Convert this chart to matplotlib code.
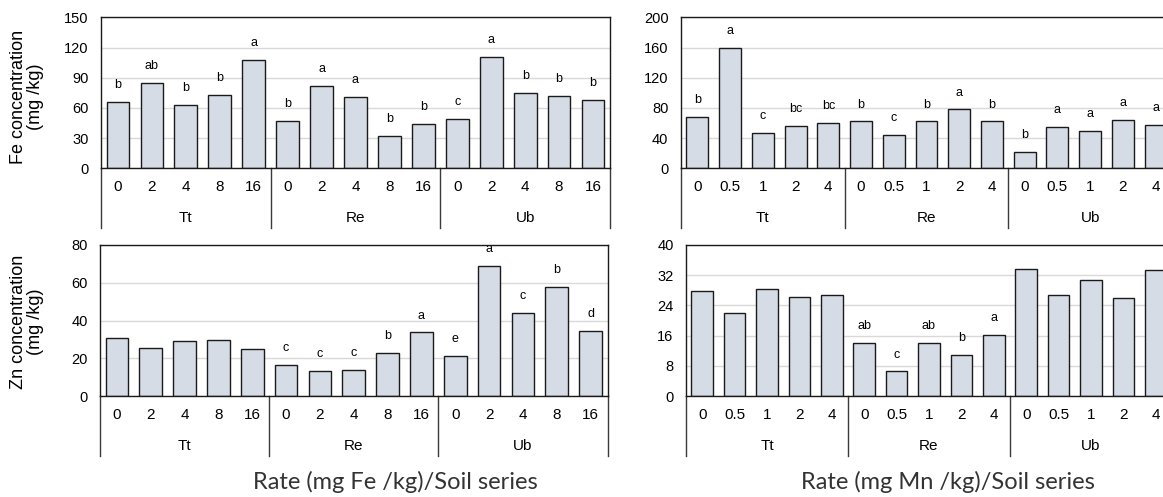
import numpy as np
import matplotlib
matplotlib.use('Agg')
import matplotlib.pyplot as plt
from matplotlib.transforms import blended_transform_factory

plt.rcParams['font.family'] = ['Liberation Sans', 'DejaVu Sans']

# data
soils = ['Tt', 'Re', 'Ub']
fe_rates = ['0', '2', '4', '8', '16']
mn_rates = ['0', '0.5', '1', '2', '4']

fe_by_fe = [66, 85, 63, 73, 108, 47, 82, 71, 32, 44, 49, 111, 75, 72, 68]
fe_by_fe_sig = ['b', 'ab', 'b', 'b', 'a', 'b', 'a', 'a', 'b', 'b', 'c', 'a', 'b', 'b', 'b']

fe_by_mn = [68, 160, 47, 56, 60, 62, 44, 62, 78, 62, 22, 55, 49, 64, 58]
fe_by_mn_sig = ['b', 'a', 'c', 'bc', 'bc', 'b', 'c', 'b', 'a', 'b', 'b', 'a', 'a', 'a', 'a']

zn_by_fe = [30.6, 25.4, 29.1, 29.5, 24.7, 16.3, 13.4, 13.6, 22.9, 33.7, 21.4, 68.7, 44, 57.7, 34.4]
zn_by_fe_sig = ['', '', '', '', '', 'c', 'c', 'c', 'b', 'a', 'e', 'a', 'c', 'b', 'd']

zn_by_mn = [27.9, 22.0, 28.3, 26.3, 26.8, 14.0, 6.5, 14.1, 10.9, 16.2, 33.6, 26.7, 30.7, 25.9, 33.3]
zn_by_mn_sig = ['', '', '', '', '', 'ab', 'c', 'ab', 'b', 'a', '', '', '', '', '']

W, H = 1163, 497
fig = plt.figure(figsize=(W / 100, H / 100), dpi=100)


def px_axes(x0, x1, ytop, ybot):
    return fig.add_axes([x0 / W, (H - ybot) / H, (x1 - x0) / W, (ybot - ytop) / H])


def panel(ax, vals, sig, rates, ymax, step):
    n = len(vals)
    x = np.arange(n)
    ax.bar(x, vals, width=0.67, color='#d6dce5', edgecolor='#1a1a1a', linewidth=1, zorder=2)
    for i in range(n):
        if sig[i]:
            ax.annotate(sig[i], (x[i], vals[i]), xytext=(0, 10), textcoords='offset points',
                        ha='center', va='baseline', fontsize=9, zorder=1)
    ax.set_xlim(-0.5, n - 0.5)
    ax.set_ylim(0, ymax)
    ax.set_yticks(np.arange(0, ymax + 1, step))
    ax.tick_params(axis='y', length=0, pad=9, labelsize=10.5)
    ax.set_xticks([])
    ax.yaxis.grid(True, color='#d9d9d9', linewidth=1)
    ax.set_axisbelow(True)
    for s in ax.spines.values():
        s.set_color('#1a1a1a')
        s.set_linewidth(1)

    hpx = ax.bbox.height
    tr = blended_transform_factory(ax.transData, ax.transAxes)
    for i in range(n):
        ax.text(x[i], -19 / hpx, rates[i % len(rates)], transform=tr, ha='center', va='center',
                fontsize=11)
    per = len(rates)
    for g in range(len(soils)):
        ax.text(g * per + (per - 1) / 2, -50 / hpx, soils[g], transform=tr, ha='center',
                va='center', fontsize=11)
    for b in range(len(soils) + 1):
        xb = b * per - 0.5
        ax.plot([xb, xb], [0, -60 / hpx], transform=tr, color='#3a3a3a', lw=1, clip_on=False)


ax1 = px_axes(101, 610, 17.3, 168.3)
panel(ax1, fe_by_fe, fe_by_fe_sig, fe_rates, 150, 30)
ax2 = px_axes(681, 1172, 17.3, 168.3)
panel(ax2, fe_by_mn, fe_by_mn_sig, mn_rates, 200, 40)
ax3 = px_axes(100, 607.5, 245, 396)
panel(ax3, zn_by_fe, zn_by_fe_sig, fe_rates, 80, 20)
ax4 = px_axes(686, 1172, 245, 396)
panel(ax4, zn_by_mn, zn_by_mn_sig, mn_rates, 40, 8)

fig.text(27 / W, (H - 97) / H, 'Fe concentration\n(mg /kg)', rotation=90, ha='center',
         va='center', fontsize=13, linespacing=1.0)
fig.text(27 / W, (H - 322) / H, 'Zn concentration\n(mg /kg)', rotation=90, ha='center',
         va='center', fontsize=13, linespacing=1.0)

fig.text(395 / W, (H - 482) / H, 'Rate (mg Fe /kg)/Soil series', ha='center', va='center',
         fontsize=17, family=['Lato', 'DejaVu Sans'], color='#333333')
fig.text(948 / W, (H - 482) / H, 'Rate (mg Mn /kg)/Soil series', ha='center', va='center',
         fontsize=17, family=['Lato', 'DejaVu Sans'], color='#333333')

fig.savefig('out.png', dpi=100)
